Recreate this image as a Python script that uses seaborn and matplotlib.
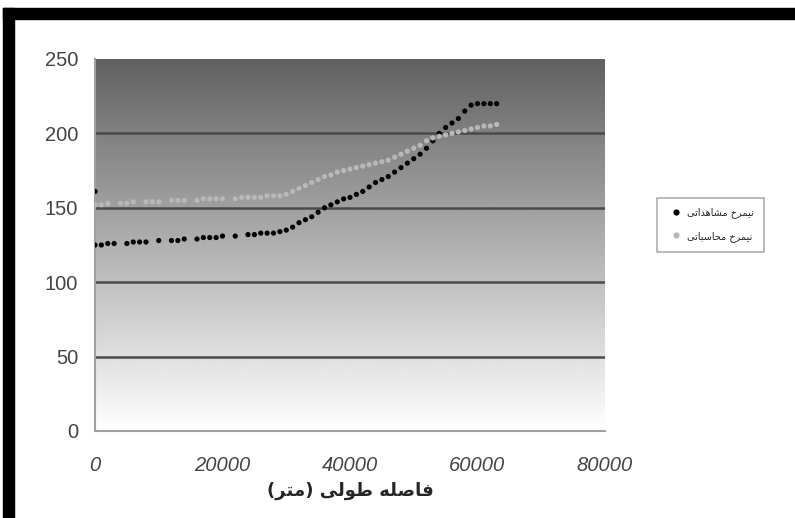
import numpy as np
import pandas as pd
import matplotlib
matplotlib.use("Agg")
import matplotlib.pyplot as plt
from matplotlib.patches import Rectangle
import seaborn as sns

# observed profile (black) and computed profile (grey), distance in metres
obs_x = [0, 0, 1000, 2000, 3000, 5000, 6000, 7000, 8000, 10000, 12000, 13000, 14000,
         16000, 17000, 18000, 19000, 20000, 22000, 24000, 25000, 26000, 27000, 28000,
         29000, 30000, 31000, 32000, 33000, 34000, 35000, 36000, 37000, 38000, 39000,
         40000, 41000, 42000, 43000, 44000, 45000, 46000, 47000, 48000, 49000, 50000,
         51000, 52000, 53000, 54000, 55000, 56000, 57000, 58000, 59000, 60000, 61000,
         62000, 63000]
obs_y = [161, 125, 125, 126, 126, 126, 127, 127, 127, 128, 128, 128, 129,
         129, 130, 130, 130, 131, 131, 132, 132, 133, 133, 133,
         134, 135, 137, 140, 142, 144, 147, 150, 152, 154, 156,
         157, 159, 161, 164, 167, 169, 171, 174, 177, 180, 183,
         186, 190, 195, 200, 204, 207, 210, 215, 219, 220, 220,
         220, 220]

calc_x = [0, 1000, 2000, 4000, 5000, 6000, 8000, 9000, 10000, 12000, 13000, 14000,
          16000, 17000, 18000, 19000, 20000, 22000, 23000, 24000, 25000, 26000, 27000,
          28000, 29000, 30000, 31000, 32000, 33000, 34000, 35000, 36000, 37000, 38000,
          39000, 40000, 41000, 42000, 43000, 44000, 45000, 46000, 47000, 48000, 49000,
          50000, 51000, 52000, 53000, 54000, 55000, 56000, 57000, 58000, 59000, 60000,
          61000, 62000, 63000]
calc_y = [152, 152, 153, 153, 153, 154, 154, 154, 154, 155, 155, 155,
          155, 156, 156, 156, 156, 156, 157, 157, 157, 157, 158,
          158, 158, 159, 161, 163, 165, 167, 169, 171, 172, 174,
          175, 176, 177, 178, 179, 180, 181, 182, 184, 186, 188,
          190, 192, 195, 197, 198, 199, 200, 201, 202, 203, 204,
          205, 205, 206]

x_ticks = [0, 20000, 40000, 60000, 80000]
y_ticks = [0, 50, 100, 150, 200, 250]

# Persian labels, pre-shaped (presentation forms, visual order)
label_obs = "\uFEF0\uFE97\uFE8D\uFEAA\uFEEB\uFE8E\uFEB8\uFEE3 \uFEA5\uFEAE\uFEE4\uFEF4\uFEE7"   # نیمرخ مشاهداتی
label_calc = "\uFEF0\uFE97\uFE8E\uFE92\uFEB3\uFE8E\uFEA4\uFEE3 \uFEA5\uFEAE\uFEE4\uFEF4\uFEE7"  # نیمرخ محاسباتی
x_label = "(\uFEAE\uFE98\uFEE3) \uFEF0\uFEDF\uFEEE\uFEC3 \uFEEA\uFEE0\uFEBB\uFE8E\uFED3"       # فاصله طولی (متر)

df = pd.concat([
    pd.DataFrame({"x": obs_x, "y": obs_y, "series": label_obs}),
    pd.DataFrame({"x": calc_x, "y": calc_y, "series": label_calc}),
])

sns.set_style("white")
plt.rcParams["font.family"] = ["Liberation Sans", "DejaVu Sans"]

fig = plt.figure(figsize=(7.95, 5.18), dpi=100)
ax = fig.add_axes([95 / 795, 87 / 518, 510 / 795, 372 / 518])

# grey gradient background
grad = np.linspace(1.0, 0.38, 256).reshape(-1, 1)
ax.imshow(grad, extent=[0, 80000, 0, 250], origin="lower", aspect="auto",
          cmap="gray", vmin=0, vmax=1, zorder=0)

for v in y_ticks[1:-1]:
    ax.axhline(v, color="#4a4a4a", lw=1.8, zorder=1)

sns.scatterplot(data=df, x="x", y="y", hue="series",
                palette={label_obs: "black", label_calc: "#b8b8b8"},
                s=14, linewidth=0, ax=ax, zorder=3, legend=True)

ax.set_xlim(0, 80000)
ax.set_ylim(0, 250)
ax.set_xticks(x_ticks)
ax.set_yticks(y_ticks)
ax.set_xticklabels([str(t) for t in x_ticks], fontstyle="italic", fontsize=14.5, color="#444444")
ax.set_yticklabels([str(t) for t in y_ticks], fontsize=14.5, color="#444444")
ax.tick_params(axis="both", direction="inout", length=6, color="#999999")
ax.tick_params(axis="y", pad=9)
ax.tick_params(axis="x", pad=15)

for side in ["top", "right"]:
    ax.spines[side].set_visible(False)
for side in ["left", "bottom"]:
    ax.spines[side].set_color("#a0a0a0")
    ax.spines[side].set_linewidth(1.5)

ax.set_ylabel("")
ax.set_xlabel(x_label, fontsize=13, fontweight="bold", family=["DejaVu Sans"], labelpad=5)

leg = ax.legend(loc="center left", bbox_to_anchor=(1.102, 0.555), borderaxespad=0,
                fontsize=7, frameon=True, fancybox=False, handletextpad=0.1,
                borderpad=1.0, labelspacing=1.3, markerscale=1.2)
leg.get_frame().set_edgecolor("#999999")
leg.get_frame().set_linewidth(1.2)
for t in leg.get_texts():
    t.set_family(["DejaVu Sans"])

# black frame of the scanned figure
fig.patches.append(Rectangle((3 / 795, 1 - 19 / 518), 1, 11 / 518,
                             transform=fig.transFigure, color="black", zorder=10))
fig.patches.append(Rectangle((3 / 795, 0), 11 / 795, 1 - 8 / 518,
                             transform=fig.transFigure, color="black", zorder=10))

fig.savefig("out.png", dpi=100)
plt.close(fig)
